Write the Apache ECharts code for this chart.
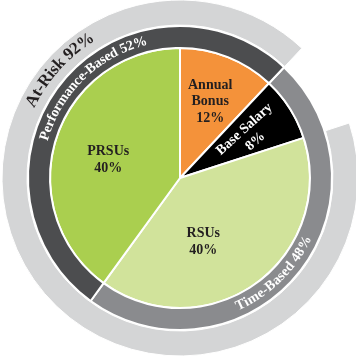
<!DOCTYPE html>
<html><head><meta charset="utf-8">
<script src="https://cdn.jsdelivr.net/npm/echarts@6/dist/echarts.min.js"></script>
<style>html,body{margin:0;padding:0;background:#fff}#c{width:356px;height:358px}</style>
</head><body><div id="c"></div>
<script>
// ---- data ----
const sliceNames = ['Annual Bonus', 'Base Salary', 'RSUs', 'PRSUs'];
const sliceLabels = ['Annual\nBonus\n12%', 'Base Salary\n8%', 'RSUs\n40%', 'PRSUs\n40%'];
const sliceValues = [12, 8, 40, 40];
const typeNames = ['Time-Based', 'Performance-Based'];
const typeValues = [48, 52];
const riskNames = ['At-Risk', 'Fixed'];
const riskValues = [92, 8];

// ---- style ----
const CX = 180, CY = 178;
const sliceColors = ['#F4923A', '#000000', '#D1E39B', '#AACF4F'];
const typeColors = ['#8A8B8E', '#4C4D4F'];
const riskColors = ['#D4D5D6', 'rgba(0,0,0,0)'];
const serif = '"Liberation Serif", "Times New Roman", serif';
// label placement per slice: radius from centre, angle shift (deg), rotation (deg), colour
const sliceLabelStyle = [
  {r: 82, d: 0, rot: 0, color: '#231F20'},
  {r: 82, d: 1, rot: 42, color: '#FFFFFF'},
  {r: 68, d: 16, rot: 0, color: '#231F20'},
  {r: 74, d: -4, rot: 0, color: '#231F20'}
];

const total = sliceValues.reduce((a, b) => a + b, 0);
const deg = v => v / total * 360;
const typeStart = deg(sliceValues[0]);              // Time-Based starts after Annual Bonus
const riskStart = deg(sliceValues[0] + sliceValues[1]); // At-Risk starts after Base Salary

const meas = document.createElement('canvas').getContext('2d');
function arcText(text, centerDeg, r, size, color, clockwise) {
  meas.font = 'bold ' + size + 'px ' + serif;
  const ws = [...text].map(ch => meas.measureText(ch).width);
  const totalW = ws.reduce((a, b) => a + b, 0);
  const els = [];
  let cum = 0;
  [...text].forEach((ch, i) => {
    const mid = cum + ws[i] / 2;
    cum += ws[i];
    let th;
    if (clockwise) th = centerDeg - (totalW / 2) / r * 180 / Math.PI + mid / r * 180 / Math.PI;
    else th = centerDeg + (totalW / 2) / r * 180 / Math.PI - mid / r * 180 / Math.PI;
    const t = th * Math.PI / 180;
    const rot = clockwise ? -t : (Math.PI - t);
    els.push({
      type: 'text', x: CX + r * Math.sin(t), y: CY - r * Math.cos(t), rotation: rot, silent: true, z: 100,
      style: {text: ch, fill: color, fontSize: size, fontWeight: 'bold', fontFamily: serif,
        align: 'center', verticalAlign: 'middle'}
    });
  });
  return els;
}

const graphics = [];
let acc = 0;
sliceValues.forEach((v, i) => {
  const s = sliceLabelStyle[i];
  const midDeg = deg(acc + v / 2) + s.d;
  acc += v;
  const t = midDeg * Math.PI / 180;
  graphics.push({
    type: 'text', x: CX + s.r * Math.sin(t), y: CY - s.r * Math.cos(t), rotation: s.rot * Math.PI / 180, silent: true, z: 100,
    style: {text: sliceLabels[i], fill: s.color, fontSize: 14, fontWeight: 'bold', fontFamily: serif,
      align: 'center', verticalAlign: 'middle', lineHeight: 16.5}
  });
});
graphics.push(...arcText(riskNames[0] + ' ' + riskValues[0] + '%', 312, 166, 17, '#231F20', true));
graphics.push(...arcText(typeNames[1] + ' ' + typeValues[1] + '%', 316, 141, 14, '#FFFFFF', true));
graphics.push(...arcText(typeNames[0] + ' ' + typeValues[0] + '%', 135.5, 141, 14, '#FFFFFF', false));

const chart = echarts.init(document.getElementById('c'), null, {renderer: 'canvas'});
chart.setOption({
  animation: false,
  backgroundColor: '#ffffff',
  series: [
    {
      type: 'pie', center: [CX, CY], radius: [0, 130], startAngle: 90, clockwise: true,
      label: {show: false}, labelLine: {show: false}, silent: true,
      itemStyle: {borderColor: '#ffffff', borderWidth: 2},
      data: sliceNames.map((n, i) => ({name: n, value: sliceValues[i], itemStyle: {color: sliceColors[i]}}))
    },
    {
      type: 'pie', center: [CX, CY], radius: [130, 152], startAngle: 90 - typeStart, clockwise: true,
      label: {show: false}, labelLine: {show: false}, silent: true,
      itemStyle: {borderColor: '#ffffff', borderWidth: 2},
      data: typeNames.map((n, i) => ({name: n, value: typeValues[i], itemStyle: {color: typeColors[i]}}))
    },
    {
      type: 'pie', center: [CX, CY], radius: [153, 178], startAngle: 90 - riskStart, clockwise: true,
      label: {show: false}, labelLine: {show: false}, silent: true,
      data: riskNames.map((n, i) => ({name: n, value: riskValues[i],
        itemStyle: {color: riskColors[i], borderColor: i === 0 ? '#ffffff' : 'rgba(0,0,0,0)', borderWidth: i === 0 ? 1 : 0}}))
    }
  ],
  graphic: {elements: graphics}
});
</script>
</body></html>
